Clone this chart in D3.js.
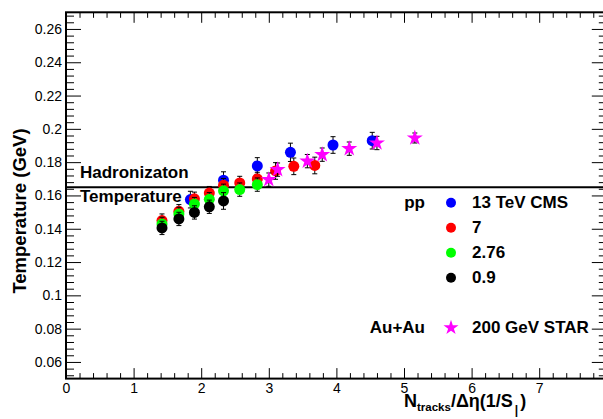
<!DOCTYPE html>
<html>
<head>
<meta charset="utf-8">
<script src="https://cdn.jsdelivr.net/npm/d3@7"></script>
<style>
  html, body { margin: 0; padding: 0; background: #fff; }
  svg { display: block; font-family: "Liberation Sans", Arial, Helvetica, sans-serif; }
</style>
</head>
<body>
<svg id="chart" width="603" height="419"></svg>
<script>
// Axis ticks and labels
const xTicks = [0, 1, 2, 3, 4, 5, 6, 7, 8];
const xTickLabels = ["0", "1", "2", "3", "4", "5", "6", "7", "8"];
const yTicks = [0.06, 0.08, 0.10, 0.12, 0.14, 0.16, 0.18, 0.20, 0.22, 0.24, 0.26];
const yTickLabels = ["0.06", "0.08", "0.1", "0.12", "0.14", "0.16", "0.18", "0.2", "0.22", "0.24", "0.26"];

// pp, 13 TeV CMS
const ppX13 = [1.84, 2.33, 2.83, 3.32, 3.95, 4.53];
const ppT13 = [0.1575, 0.1692, 0.1777, 0.1859, 0.1903, 0.1929];
const ppE13 = [0.005, 0.005, 0.005, 0.0055, 0.005, 0.005];

// pp, 7 TeV
const ppX7 = [1.42, 1.67, 1.90, 2.12, 2.33, 2.57, 2.83, 3.10, 3.37, 3.68];
const ppT7 = [0.1449, 0.1505, 0.1580, 0.1614, 0.1662, 0.1675, 0.1699, 0.1747, 0.1775, 0.1780];
const ppE7 = [0.004, 0.004, 0.004, 0.004, 0.004, 0.004, 0.004, 0.005, 0.005, 0.005];

// pp, 2.76 TeV
const ppX276 = [1.42, 1.67, 1.90, 2.12, 2.33, 2.57, 2.83];
const ppT276 = [0.1429, 0.1489, 0.1548, 0.1577, 0.1628, 0.1635, 0.1665];
const ppE276 = [0.004, 0.004, 0.004, 0.004, 0.004, 0.004, 0.004];

// pp, 0.9 TeV
const ppX09 = [1.42, 1.67, 1.90, 2.12, 2.33];
const ppT09 = [0.1405, 0.1459, 0.1498, 0.1532, 0.1567];
const ppE09 = [0.004, 0.004, 0.004, 0.004, 0.005];

// Au+Au, 200 GeV STAR
const auX = [3.00, 3.13, 3.57, 3.79, 4.19, 4.60, 5.16];
const auT = [0.1695, 0.1755, 0.1806, 0.1845, 0.1881, 0.1915, 0.1945];
const auE = [0.004, 0.004, 0.004, 0.004, 0.004, 0.004, 0.003];

// Hadronization temperature
const hadronT = 0.165;

// Legend entries
const legendLabels = ["13 TeV CMS", "7", "2.76", "0.9", "200 GeV STAR"];
const legendColors = ["#0000ff", "#ff0000", "#00ff00", "#000000", "#ff00ff"];
const legendRows = [0, 1, 2, 3, 5];

const svg = d3.select("#chart");
const x = d3.scaleLinear().domain([0, 8]).range([66, 606.8]);
const y = d3.scaleLinear().domain([0.05, 0.27]).range([378.6, 12.3]);

const frameL = x.range()[0], frameR = x.range()[1];
const frameB = y.range()[0], frameT = y.range()[1];

const xMinor = d3.range(0, 8.001, 0.2).filter(v => Math.abs(v - Math.round(v)) > 1e-6);
const yMinor = d3.range(0.052, 0.2701, 0.004).filter(v => Math.abs(v * 50 - Math.round(v * 50)) > 1e-6);

function styleAxis(g) {
  g.select(".domain").remove();
  g.selectAll(".tick line").attr("stroke", "#000").attr("stroke-width", 1);
  g.selectAll(".tick text").attr("fill", "#000").attr("font-size", 14)
    .attr("font-family", "'Liberation Sans', Arial, sans-serif");
}

// Bottom axis
svg.append("g").attr("transform", `translate(0,${frameB})`)
  .call(d3.axisBottom(x).tickValues(xTicks).tickSizeInner(-10.5).tickSizeOuter(0).tickPadding(4.5)
    .tickFormat((d, i) => xTickLabels[i]))
  .call(styleAxis);
svg.append("g").attr("transform", `translate(0,${frameB})`)
  .call(d3.axisBottom(x).tickValues(xMinor).tickSizeInner(-5.5).tickSizeOuter(0).tickFormat(""))
  .call(styleAxis);
// Top axis
svg.append("g").attr("transform", `translate(0,${frameT})`)
  .call(d3.axisTop(x).tickValues(xTicks).tickSizeInner(-10.5).tickSizeOuter(0).tickFormat(""))
  .call(styleAxis);
svg.append("g").attr("transform", `translate(0,${frameT})`)
  .call(d3.axisTop(x).tickValues(xMinor).tickSizeInner(-5.5).tickSizeOuter(0).tickFormat(""))
  .call(styleAxis);
// Left axis
svg.append("g").attr("transform", `translate(${frameL},0)`)
  .call(d3.axisLeft(y).tickValues(yTicks).tickSizeInner(-15).tickSizeOuter(0).tickPadding(4)
    .tickFormat((d, i) => yTickLabels[i]))
  .call(styleAxis);
svg.append("g").attr("transform", `translate(${frameL},0)`)
  .call(d3.axisLeft(y).tickValues(yMinor).tickSizeInner(-8).tickSizeOuter(0).tickFormat(""))
  .call(styleAxis);
// Right axis
svg.append("g").attr("transform", `translate(${frameR},0)`)
  .call(d3.axisRight(y).tickValues(yTicks).tickSizeInner(-15).tickSizeOuter(0).tickFormat(""))
  .call(styleAxis);
svg.append("g").attr("transform", `translate(${frameR},0)`)
  .call(d3.axisRight(y).tickValues(yMinor).tickSizeInner(-8).tickSizeOuter(0).tickFormat(""))
  .call(styleAxis);

// Frame
svg.append("rect")
  .attr("x", frameL).attr("y", frameT)
  .attr("width", frameR - frameL).attr("height", frameB - frameT)
  .attr("fill", "none").attr("stroke", "#000").attr("stroke-width", 2);

// Hadronization temperature line and label
svg.append("line")
  .attr("x1", frameL).attr("x2", frameR)
  .attr("y1", y(hadronT)).attr("y2", y(hadronT))
  .attr("stroke", "#000").attr("stroke-width", 2);
svg.append("text").attr("x", 80).attr("y", 177.5)
  .attr("font-size", 17).attr("font-weight", "bold").text("Hadronizaton");
svg.append("text").attr("x", 80).attr("y", 202)
  .attr("font-size", 17).attr("font-weight", "bold").text("Temperature");

// Data series
function drawSeries(xs, ts, es, color, shape) {
  const g = svg.append("g");
  const pts = xs.map((v, i) => ({ x: v, t: ts[i], e: es[i] }));
  const err = g.selectAll("g.err").data(pts).enter().append("g")
    .attr("stroke", "#000").attr("stroke-width", 1);
  err.append("line")
    .attr("x1", d => x(d.x)).attr("x2", d => x(d.x))
    .attr("y1", d => y(d.t - d.e)).attr("y2", d => y(d.t + d.e));
  err.append("line")
    .attr("x1", d => x(d.x) - 2.5).attr("x2", d => x(d.x) + 2.5)
    .attr("y1", d => y(d.t + d.e)).attr("y2", d => y(d.t + d.e));
  err.append("line")
    .attr("x1", d => x(d.x) - 2.5).attr("x2", d => x(d.x) + 2.5)
    .attr("y1", d => y(d.t - d.e)).attr("y2", d => y(d.t - d.e));
  if (shape === "star") {
    g.selectAll("path.mk").data(pts).enter().append("path")
      .attr("d", d3.symbol().type(d3.symbolStar).size(80))
      .attr("transform", d => `translate(${x(d.x)},${y(d.t)})`)
      .attr("fill", color);
  } else {
    g.selectAll("circle.mk").data(pts).enter().append("circle")
      .attr("cx", d => x(d.x)).attr("cy", d => y(d.t)).attr("r", 5.5)
      .attr("fill", color);
  }
}
drawSeries(ppX13, ppT13, ppE13, legendColors[0], "circle");
drawSeries(ppX7, ppT7, ppE7, legendColors[1], "circle");
drawSeries(ppX276, ppT276, ppE276, legendColors[2], "circle");
drawSeries(ppX09, ppT09, ppE09, legendColors[3], "circle");
drawSeries(auX, auT, auE, legendColors[4], "star");

// Legend
const rowY = d3.scaleLinear().domain([0, 1]).range([202.7, 227.7]);
const leg = svg.append("g");
leg.append("text").attr("x", 425).attr("y", rowY(0) + 5.5).attr("text-anchor", "end")
  .attr("font-size", 17).attr("font-weight", "bold").text("pp");
leg.append("text").attr("x", 425).attr("y", rowY(5) + 5.5).attr("text-anchor", "end")
  .attr("font-size", 17).attr("font-weight", "bold").text("Au+Au");
legendLabels.forEach((lab, i) => {
  const cy = rowY(legendRows[i]);
  if (i === 4) {
    leg.append("path").attr("d", d3.symbol().type(d3.symbolStar).size(70)())
      .attr("transform", `translate(451,${cy})`).attr("fill", legendColors[i]);
  } else {
    leg.append("circle").attr("cx", 451).attr("cy", cy).attr("r", 5).attr("fill", legendColors[i]);
  }
  leg.append("text").attr("x", 472).attr("y", cy + 5.5)
    .attr("font-size", 17).attr("font-weight", "bold").text(lab);
});

// Axis titles
svg.append("text")
  .attr("transform", "translate(26,211) rotate(-90)")
  .attr("text-anchor", "middle").attr("font-size", 18.5).attr("font-weight", "bold")
  .text("Temperature (GeV)");

const xt = svg.append("text").attr("x", 404).attr("y", 407)
  .attr("font-size", 18).attr("font-weight", "bold");
xt.append("tspan").text("N");
xt.append("tspan").attr("font-size", 11.5).attr("dy", 4).text("tracks");
xt.append("tspan").attr("dy", -4).text("/Δη(1/S");
xt.append("tspan").attr("font-size", 12).attr("dy", 7).attr("dx", 2).text("|");
xt.append("tspan").attr("dy", -7).attr("dx", 2).text(")");
</script>
</body>
</html>
